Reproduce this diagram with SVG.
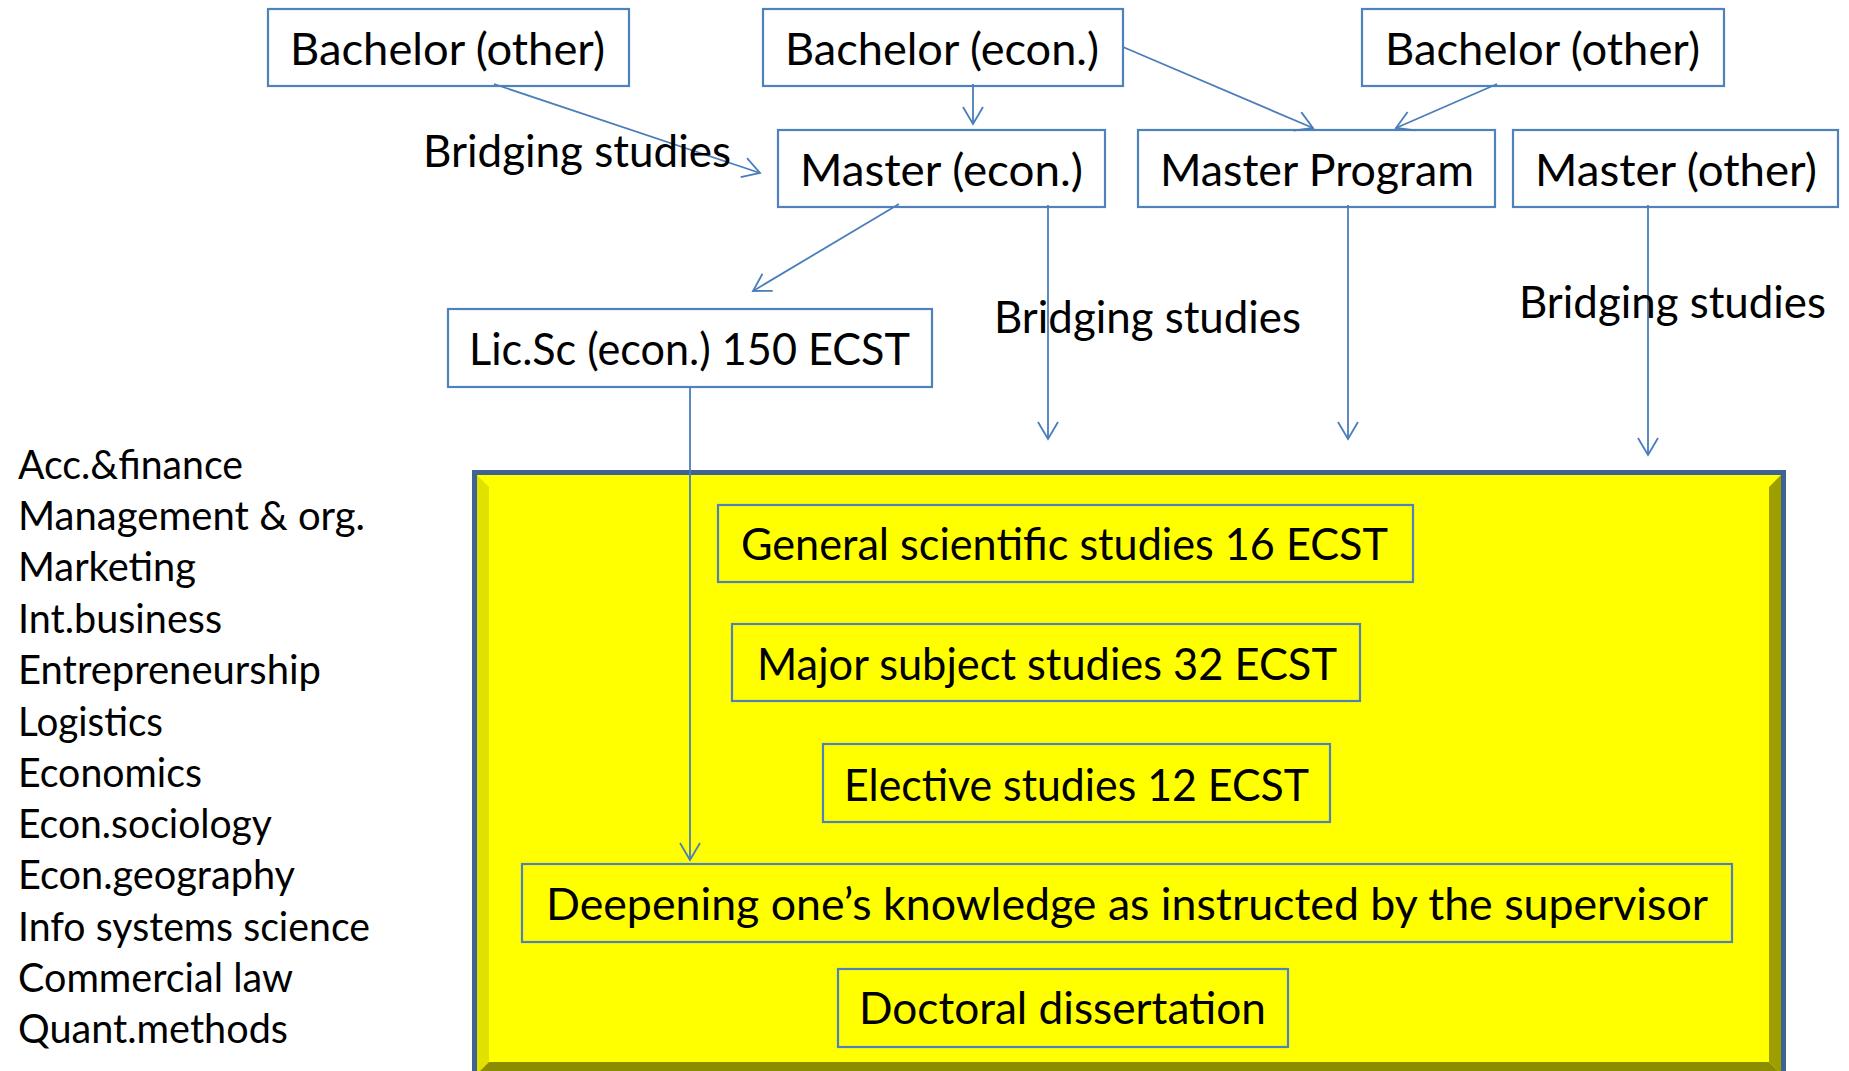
<svg xmlns="http://www.w3.org/2000/svg" width="1849" height="1071" viewBox="0 0 1849 1071">
<defs>
<style>
.box{fill:none;stroke:#4f81bd;stroke-width:2.2}
.ibox{fill:none;stroke:#4f81bd;stroke-width:2.2}
.t{font-family:Lato,"Open Sans","Liberation Sans",sans-serif;font-size:45px;fill:#000}
.l{font-family:Lato,"Open Sans","Liberation Sans",sans-serif;font-size:40px;fill:#000}
.c{fill:none;stroke:#4a7ebb;stroke-width:1.8}
</style>
<marker id="ah" markerUnits="userSpaceOnUse" viewBox="0 0 20 22" refX="18" refY="11" markerWidth="20" markerHeight="22" orient="auto">
<path d="M1,1 L18,11 L1,21" fill="none" stroke="#4a7ebb" stroke-width="1.8"/>
</marker>
</defs>
<rect width="1849" height="1071" fill="#fff"/>

<g id="phd-area">
<rect x="472" y="470" width="1314" height="612" fill="#3e6392"/>
<rect x="477" y="475" width="1304" height="602" fill="#ffff00"/>
<polygon points="477,475 489,487 489,1062 477,1074" fill="#e1e100"/>
<polygon points="1781,475 1769,487 1769,1062 1781,1074" fill="#9e9e00"/>
<polygon points="477,1074 489,1062 1769,1062 1781,1074" fill="#8c8c00"/>
</g>

<g id="bachelor-other-left"><rect class="box" x="268" y="9" width="361" height="77"/><text class="t" x="290" y="65" textLength="315" lengthAdjust="spacingAndGlyphs">Bachelor (other)</text></g>
<g id="bachelor-econ"><rect class="box" x="763" y="9" width="360" height="77"/><text class="t" x="785" y="65" textLength="314" lengthAdjust="spacingAndGlyphs">Bachelor (econ.)</text></g>
<g id="bachelor-other-right"><rect class="box" x="1362" y="9" width="362" height="77"/><text class="t" x="1385" y="65" textLength="315" lengthAdjust="spacingAndGlyphs">Bachelor (other)</text></g>
<g id="master-econ"><rect class="box" x="778" y="130" width="327" height="77"/><text class="t" x="800" y="186" textLength="283" lengthAdjust="spacingAndGlyphs">Master (econ.)</text></g>
<g id="master-program"><rect class="box" x="1138" y="130" width="357" height="77"/><text class="t" x="1160" y="186" textLength="314" lengthAdjust="spacingAndGlyphs">Master Program</text></g>
<g id="master-other"><rect class="box" x="1513" y="130" width="325" height="77"/><text class="t" x="1535" y="186" textLength="282" lengthAdjust="spacingAndGlyphs">Master (other)</text></g>
<g id="licsc"><rect class="box" x="448" y="309" width="484" height="78"/><text class="t" x="469" y="365" textLength="441" lengthAdjust="spacingAndGlyphs">Lic.Sc (econ.) 150 ECST</text></g>

<g id="general"><rect class="ibox" x="718" y="505" width="695" height="77"/><text class="t" x="741" y="560" textLength="647" lengthAdjust="spacingAndGlyphs">General scientific studies 16 ECST</text></g>
<g id="major"><rect class="ibox" x="732" y="624" width="628" height="77"/><text class="t" x="757" y="680" textLength="580" lengthAdjust="spacingAndGlyphs">Major subject studies 32 ECST</text></g>
<g id="elective"><rect class="ibox" x="823" y="744" width="507" height="78"/><text class="t" x="844" y="801" textLength="465" lengthAdjust="spacingAndGlyphs">Elective studies 12 ECST</text></g>
<g id="deepening"><rect class="ibox" x="522" y="864" width="1210" height="78"/><text class="t" x="546" y="920" textLength="1162" lengthAdjust="spacingAndGlyphs">Deepening one’s knowledge as instructed by the supervisor</text></g>
<g id="doctoral"><rect class="ibox" x="838" y="969" width="450" height="78"/><text class="t" x="859" y="1024" textLength="407" lengthAdjust="spacingAndGlyphs">Doctoral dissertation</text></g>

<g id="connectors">
<line class="c" x1="494" y1="84" x2="760" y2="173" marker-end="url(#ah)"/>
<line class="c" x1="973" y1="84" x2="973" y2="124" marker-end="url(#ah)"/>
<line class="c" x1="1123" y1="47" x2="1313" y2="128" marker-end="url(#ah)"/>
<line class="c" x1="1497" y1="84" x2="1396" y2="128" marker-end="url(#ah)"/>
<line class="c" x1="899" y1="204" x2="753" y2="291" marker-end="url(#ah)"/>
<line class="c" x1="1048" y1="205" x2="1048" y2="439" marker-end="url(#ah)"/>
<line class="c" x1="1348" y1="205" x2="1348" y2="439" marker-end="url(#ah)"/>
<line class="c" x1="1648" y1="205" x2="1648" y2="455" marker-end="url(#ah)"/>
<line class="c" x1="690" y1="387" x2="690" y2="860" marker-end="url(#ah)"/>
</g>

<g id="labels">
<text class="t" x="423" y="167" textLength="308" lengthAdjust="spacingAndGlyphs">Bridging studies</text>
<text class="t" x="994" y="333" textLength="307" lengthAdjust="spacingAndGlyphs">Bridging studies</text>
<text class="t" x="1519" y="318" textLength="307" lengthAdjust="spacingAndGlyphs">Bridging studies</text>
</g>

<g id="majors-list">
<text class="l" x="18" y="479" textLength="225" lengthAdjust="spacingAndGlyphs">Acc.&amp;finance</text>
<text class="l" x="18" y="530" textLength="347" lengthAdjust="spacingAndGlyphs">Management &amp; org.</text>
<text class="l" x="18" y="581" textLength="178" lengthAdjust="spacingAndGlyphs">Marketing</text>
<text class="l" x="18" y="633" textLength="204" lengthAdjust="spacingAndGlyphs">Int.business</text>
<text class="l" x="18" y="684" textLength="303" lengthAdjust="spacingAndGlyphs">Entrepreneurship</text>
<text class="l" x="18" y="736" textLength="145" lengthAdjust="spacingAndGlyphs">Logistics</text>
<text class="l" x="18" y="787" textLength="184" lengthAdjust="spacingAndGlyphs">Economics</text>
<text class="l" x="18" y="838" textLength="254" lengthAdjust="spacingAndGlyphs">Econ.sociology</text>
<text class="l" x="18" y="889" textLength="277" lengthAdjust="spacingAndGlyphs">Econ.geography</text>
<text class="l" x="18" y="941" textLength="352" lengthAdjust="spacingAndGlyphs">Info systems science</text>
<text class="l" x="18" y="992" textLength="275" lengthAdjust="spacingAndGlyphs">Commercial law</text>
<text class="l" x="18" y="1043" textLength="270" lengthAdjust="spacingAndGlyphs">Quant.methods</text>
</g>
</svg>
